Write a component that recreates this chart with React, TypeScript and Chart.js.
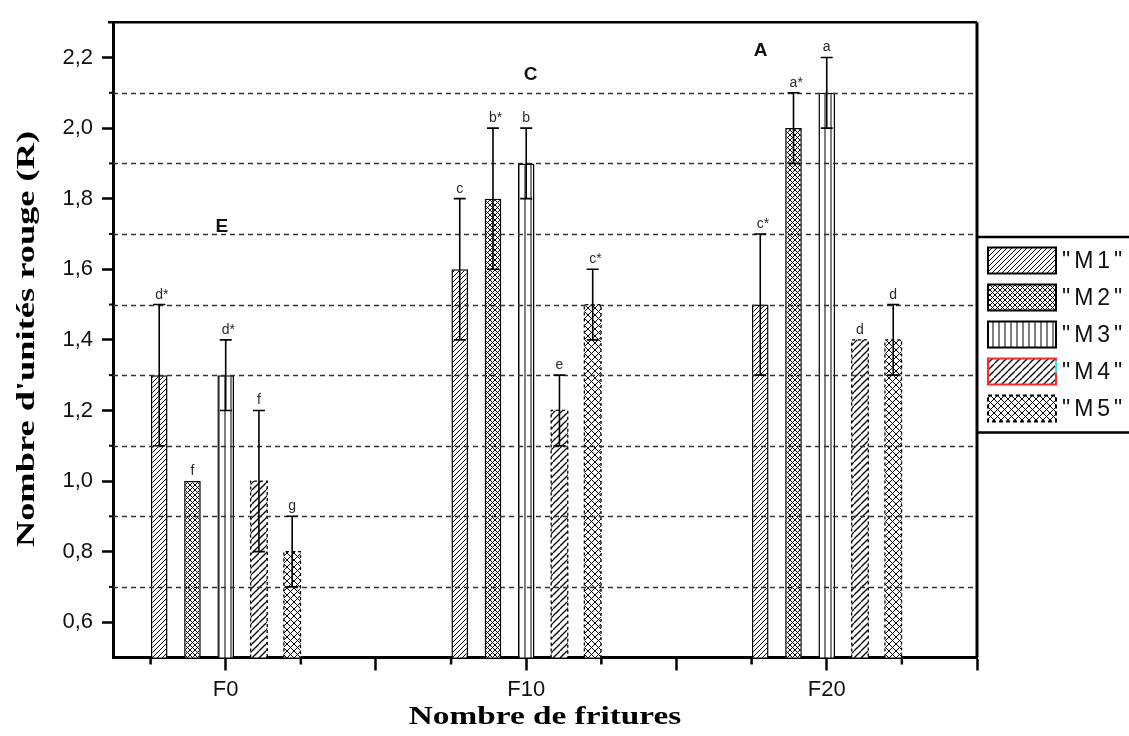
import React, { useEffect, useRef } from "react";
import { Chart, registerables } from "chart.js";

Chart.register(...registerables);

// ---------- data ----------
const categories = ["F0", "F10", "F20"];
const categoryX = [1, 3, 5];
const seriesNames = ['"M1"', '"M2"', '"M3"', '"M4"', '"M5"'];
const m1 = [1.3, 1.6, 1.5];
const m2 = [1.0, 1.8, 2.0];
const m3 = [1.3, 1.9, 2.1];
const m4 = [1.0, 1.2, 1.4];
const m5 = [0.8, 1.5, 1.4];
const m1Err = [0.2, 0.2, 0.2];
const m2Err = [0, 0.2, 0.1];
const m3Err = [0.1, 0.1, 0.1];
const m4Err = [0.2, 0.1, 0];
const m5Err = [0.1, 0.1, 0.1];
const m1Sig = ["d*", "c", "c*"];
const m2Sig = ["f", "b*", "a*"];
const m3Sig = ["d*", "b", "a"];
const m4Sig = ["f", "e", "d"];
const m5Sig = ["g", "c*", "d"];
const groupLetters = ["E", "C", "A"];
const groupLetterX = [0.975, 3.03, 4.56];
const groupLetterY = [1.72, 2.15, 2.22];
const yTicks = [0.6, 0.8, 1.0, 1.2, 1.4, 1.6, 1.8, 2.0, 2.2];
const yGrid = [0.7, 0.9, 1.1, 1.3, 1.5, 1.7, 1.9, 2.1];
const xMajor = [1, 2, 3, 4, 5, 6];
const xMinor = [0.5, 1.5, 2.5, 3.5, 4.5, 5.5];
const xTitle = "Nombre de fritures";
const yTitle = "Nombre d'unités rouge (R)";

const seriesVals = [m1, m2, m3, m4, m5];
const seriesErr = [m1Err, m2Err, m3Err, m4Err, m5Err];
const seriesSig = [m1Sig, m2Sig, m3Sig, m4Sig, m5Sig];

const SANS = '"Liberation Sans", Arial, sans-serif';
const SERIF = '"Liberation Serif", "Times New Roman", serif';

function makePattern(kind: string): CanvasPattern {
  const c = document.createElement("canvas");
  let s = 5;
  if (kind === "vert") s = 6;
  if (kind === "diagB" || kind === "crossB") s = 7;
  c.width = s;
  c.height = s;
  const g = c.getContext("2d")!;
  g.fillStyle = "#fff";
  g.fillRect(0, 0, s, s);
  g.strokeStyle = "#000";
  g.lineWidth = kind === "diagB" ? 1.3 : 1;
  const diag = (dir: number) => {
    for (let k = -1; k <= 1; k++) {
      g.beginPath();
      if (dir > 0) {
        g.moveTo(k * s, s);
        g.lineTo(k * s + s, 0);
      } else {
        g.moveTo(k * s, 0);
        g.lineTo(k * s + s, s);
      }
      g.stroke();
    }
  };
  if (kind === "diag" || kind === "diagB") diag(1);
  if (kind === "cross" || kind === "crossB") {
    diag(1);
    diag(-1);
  }
  if (kind === "vert") {
    g.beginPath();
    g.moveTo(3, 0);
    g.lineTo(3, s);
    g.stroke();
  }
  return g.createPattern(c, "repeat")!;
}

export default function App() {
  const ref = useRef<HTMLCanvasElement>(null);

  useEffect(() => {
    const canvas = ref.current!;
    const patterns = ["diag", "cross", "vert", "diagB", "crossB"].map(makePattern);

    const datasets = seriesVals.map((vals, k) => ({
      label: seriesNames[k],
      data: categoryX.map((x, i) => ({ x, y: vals[i] })),
      backgroundColor: patterns[k],
      borderColor: "#000",
      borderWidth: k < 3 ? 1.5 : 0,
    }));

    const overlay = {
      id: "overlay",
      afterDatasetsDraw(chart: any) {
        const ctx = chart.ctx as CanvasRenderingContext2D;
        const ca = chart.chartArea;
        const xs = chart.scales.x;
        const ys = chart.scales.y;
        ctx.save();

        // dashed borders for M4/M5
        [3, 4].forEach((k) => {
          const meta = chart.getDatasetMeta(k);
          meta.data.forEach((el: any) => {
            const l = el.x - el.width / 2;
            const r = el.x + el.width / 2;
            const b = Math.min(el.base, ca.bottom);
            ctx.strokeStyle = "#000";
            ctx.lineWidth = 1.3;
            ctx.setLineDash([3, 3]);
            ctx.beginPath();
            ctx.moveTo(l, b);
            ctx.lineTo(l, el.y);
            ctx.lineTo(r, el.y);
            ctx.lineTo(r, b);
            ctx.stroke();
          });
        });

        // dashed grid lines
        ctx.setLineDash([5, 4]);
        ctx.strokeStyle = "#333";
        ctx.lineWidth = 1.3;
        yGrid.forEach((v) => {
          const y = Math.round(ys.getPixelForValue(v)) + 0.5;
          ctx.beginPath();
          ctx.moveTo(ca.left, y);
          ctx.lineTo(ca.right, y);
          ctx.stroke();
        });
        ctx.setLineDash([]);

        // minor ticks
        ctx.strokeStyle = "#000";
        ctx.lineWidth = 2;
        yGrid.forEach((v) => {
          const y = ys.getPixelForValue(v);
          ctx.beginPath();
          ctx.moveTo(ca.left - 4, y);
          ctx.lineTo(ca.left, y);
          ctx.stroke();
        });
        ctx.lineWidth = 2.5;
        xMinor.forEach((v) => {
          const x = xs.getPixelForValue(v);
          ctx.beginPath();
          ctx.moveTo(x, ca.bottom);
          ctx.lineTo(x, ca.bottom + 7);
          ctx.stroke();
        });

        // error bars + significance letters
        seriesVals.forEach((vals, k) => {
          const meta = chart.getDatasetMeta(k);
          meta.data.forEach((el: any, i: number) => {
            const v = vals[i];
            const e = seriesErr[k][i];
            const x = el.x;
            const top = ys.getPixelForValue(v + e);
            if (e > 0) {
              const bot = ys.getPixelForValue(v - e);
              ctx.strokeStyle = "#000";
              ctx.lineWidth = 1.6;
              ctx.beginPath();
              ctx.moveTo(x, top);
              ctx.lineTo(x, bot);
              ctx.moveTo(x - 6, top);
              ctx.lineTo(x + 6, top);
              ctx.moveTo(x - 6, bot);
              ctx.lineTo(x + 6, bot);
              ctx.stroke();
            }
            const txt = seriesSig[k][i];
            ctx.font = `14px ${SANS}`;
            ctx.fillStyle = "#2a2a2a";
            ctx.textAlign = "left";
            ctx.textBaseline = "alphabetic";
            const w0 = ctx.measureText(txt[0]).width;
            ctx.fillText(txt, x - w0 / 2, top - 6);
          });
        });

        // group letters
        ctx.font = `bold 19px ${SANS}`;
        ctx.fillStyle = "#111";
        ctx.textAlign = "center";
        ctx.textBaseline = "middle";
        groupLetters.forEach((t, i) => {
          ctx.fillText(t, xs.getPixelForValue(groupLetterX[i]), ys.getPixelForValue(groupLetterY[i]));
        });

        // frame top / right
        ctx.strokeStyle = "#000";
        ctx.lineWidth = 2.5;
        ctx.beginPath();
        ctx.moveTo(ca.left - 5, ca.top);
        ctx.lineTo(ca.right, ca.top);
        ctx.stroke();
        ctx.lineWidth = 3;
        ctx.beginPath();
        ctx.moveTo(ca.right, ca.top);
        ctx.lineTo(ca.right, ca.bottom);
        ctx.stroke();

        // legend
        const lgTop = 237;
        const lgBottom = 432.5;
        ctx.lineWidth = 2.5;
        ctx.beginPath();
        ctx.moveTo(ca.right, lgTop);
        ctx.lineTo(chart.width, lgTop);
        ctx.moveTo(ca.right, lgBottom);
        ctx.lineTo(chart.width, lgBottom);
        ctx.stroke();
        seriesNames.forEach((name, k) => {
          const sx = 988;
          const sy = 247.5 + k * 37;
          const sw = 68;
          const sh = 26;
          ctx.fillStyle = patterns[k];
          ctx.fillRect(sx, sy, sw, sh);
          ctx.lineWidth = 2;
          if (k === 3) {
            ctx.strokeStyle = "#ff2a2a";
            ctx.strokeRect(sx, sy, sw, sh);
            ctx.strokeStyle = "#33e6e6";
            ctx.beginPath();
            ctx.moveTo(sx + sw, sy + 2);
            ctx.lineTo(sx + sw, sy + 14);
            ctx.stroke();
          } else if (k === 4) {
            ctx.strokeStyle = "#000";
            ctx.setLineDash([4, 3]);
            ctx.strokeRect(sx, sy, sw, sh);
            ctx.setLineDash([]);
          } else {
            ctx.strokeStyle = "#000";
            ctx.strokeRect(sx, sy, sw, sh);
          }
          ctx.fillStyle = "#111";
          ctx.font = `23px ${SANS}`;
          ctx.textAlign = "left";
          ctx.textBaseline = "middle";
          (ctx as any).letterSpacing = "4px";
          ctx.fillText(name, 1062, sy + sh / 2 + 1);
          (ctx as any).letterSpacing = "0px";
        });

        // axis titles
        ctx.fillStyle = "#000";
        ctx.font = `bold 26px ${SERIF}`;
        ctx.textAlign = "center";
        ctx.textBaseline = "middle";
        ctx.save();
        ctx.translate((ca.left + ca.right) / 2, 717);
        ctx.scale(1.28, 1);
        ctx.fillText(xTitle, 0, 0);
        ctx.restore();
        ctx.save();
        ctx.translate(27, 339);
        ctx.rotate(-Math.PI / 2);
        ctx.scale(1.4, 1);
        ctx.fillText(yTitle, 0, 0);
        ctx.restore();

        ctx.restore();
      },
    };

    const chart = new Chart(canvas, {
      type: "bar",
      data: { datasets: datasets as any },
      options: {
        responsive: false,
        animation: false,
        layout: { padding: { top: 13.5, right: 152, left: 0, bottom: 0 } },
        datasets: { bar: { categoryPercentage: 1.106, barPercentage: 0.5 } },
        plugins: { legend: { display: false }, tooltip: { enabled: false } },
        scales: {
          x: {
            type: "linear",
            offset: false,
            min: 0.25,
            max: 6,
            afterBuildTicks: (s: any) => {
              s.ticks = xMajor.map((v) => ({ value: v }));
            },
            afterFit: (s: any) => {
              s.height = 78.5;
            },
            grid: { offset: false, drawOnChartArea: false, drawTicks: true, tickLength: 13, tickWidth: 2.5, tickColor: "#000" },
            border: { display: true, color: "#000", width: 3 },
            ticks: {
              autoSkip: false,
              maxRotation: 0,
              padding: 6,
              color: "#111",
              font: { family: SANS, size: 22 },
              callback: (v: any) => {
                const i = categoryX.indexOf(Number(v));
                return i >= 0 ? categories[i] : "";
              },
            },
          },
          y: {
            type: "linear",
            min: 0.5,
            max: 2.3,
            afterBuildTicks: (s: any) => {
              s.ticks = yTicks.map((v) => ({ value: v }));
            },
            afterFit: (s: any) => {
              s.width = 113;
            },
            grid: { drawOnChartArea: false, drawTicks: true, tickLength: 11, tickWidth: 2.5, tickColor: "#000" },
            border: { display: true, color: "#000", width: 3 },
            ticks: {
              padding: 9,
              color: "#111",
              font: { family: SANS, size: 22 },
              callback: (v: any) => Number(v).toFixed(1).replace(".", ","),
            },
          },
        },
      },
      plugins: [overlay],
    });
    return () => chart.destroy();
  }, []);

  return (
    <div style={{ position: "fixed", left: 0, top: 0, width: 1129, height: 736, background: "#fff" }}>
      <canvas ref={ref} width={1129} height={736} style={{ display: "block" }} />
    </div>
  );
}
